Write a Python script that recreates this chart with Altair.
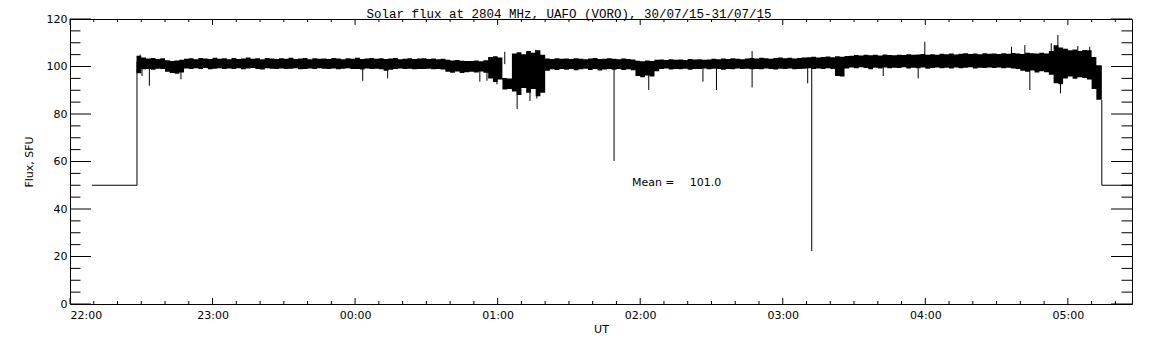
import altair as alt
import pandas as pd

# ---------------- data (minutes after 22:00 UT, flux in SFU) ----------------
TITLE = "Solar flux at 2804 MHz, UAFO (VORO),  30/07/15-31/07/15"
MEAN_LABEL = "Mean ="
MEAN_VALUE = "101.0"

# envelope of the dense record, 2-minute bins starting at minute 28
band_start = 28
band_step = 2
band_hi = [
    104.5, 103.8, 103.4, 103.6, 103.2, 103.5, 102.6, 102.3, 102.5, 102.8,
    103.3, 103.5, 103.1, 103.6, 103.4, 103.2, 103.7, 103.3, 103.5, 103.1,
    103.6, 103.2, 103.4, 103.8, 103.3, 103.5, 103.1, 103.6, 103.4, 103.2,
    103.5, 103.3, 103.7, 103.2, 103.4, 103.6, 103.1, 103.5, 103.3, 103.4,
    103.2, 103.6, 103.4, 103.1, 103.5, 103.3, 103.7, 103.2, 103.4, 103.6,
    103.3, 103.5, 103.2, 103.4, 103.6, 103.1, 103.3, 103.5, 103.2, 103.4,
    103.5, 103.2, 103.4, 103.1, 103.3, 102.8, 102.5, 102.7, 102.4, 102.3,
    102.3, 102.5, 102.2, 102.6, 104.0, 104.3, 103.8, 95.2, 95.0, 105.5,
    106.0, 105.2, 106.5, 105.8, 106.8, 105.0, 103.4, 103.2, 103.5, 103.3,
    103.4, 103.2, 103.5, 103.3, 103.1, 103.4, 103.6, 103.2, 103.3, 103.5,
    103.3, 103.1, 103.4, 103.2, 103.0, 102.4, 102.2, 102.5, 102.3, 102.8,
    102.9, 102.7, 103.1, 102.8, 103.0, 102.7, 103.2, 102.9, 103.1, 102.8,
    103.0, 103.3, 103.1, 103.4, 103.2, 103.5, 103.3, 103.1, 103.4, 103.6,
    103.4, 103.7, 103.5, 103.3, 103.6, 103.8, 103.5, 103.7, 103.4, 103.6,
    103.8, 103.9, 104.1, 103.8, 104.0, 104.2, 103.9, 104.3, 104.1, 104.4,
    104.5, 104.8, 104.6, 105.0, 104.7, 104.9, 104.6, 105.1, 104.8, 104.7,
    105.0, 104.8, 105.2, 104.9, 105.1, 105.3, 104.9, 105.2, 105.0, 105.4,
    105.2, 105.5, 105.1, 105.4, 105.6, 105.3, 105.5, 105.2, 105.6, 105.4,
    105.5, 105.3, 105.6, 105.4, 105.7, 105.5, 105.3, 105.8, 105.6, 105.5,
    105.8, 105.5, 106.5, 109.0, 108.0, 107.5, 106.8, 107.2, 106.5, 107.0,
    106.8, 104.0, 100.5,
]
band_lo = [
    97.2, 98.8, 99.0, 98.6, 99.1, 98.9, 97.8, 97.3, 97.0, 97.5,
    99.2, 98.9, 99.3, 99.0, 99.4, 98.8, 99.1, 99.3, 98.9, 99.2,
    99.0, 99.3, 98.8, 99.2, 99.4, 99.0, 98.7, 99.3, 99.1, 98.9,
    99.2, 98.9, 99.1, 99.3, 98.8, 99.0, 99.2, 98.9, 99.3, 99.1,
    99.0, 99.2, 98.8, 99.1, 99.3, 98.9, 99.0, 98.7, 99.2, 99.0,
    99.1, 98.8, 98.2, 98.6, 99.0, 99.2, 98.9, 99.1, 98.8, 99.0,
    98.9, 99.1, 98.8, 99.0, 98.7, 97.8, 97.4, 97.9, 97.3, 97.6,
    97.8, 97.5, 97.9, 97.4, 95.0, 93.5, 94.5, 90.3, 90.5, 89.5,
    88.0, 91.0, 89.0, 90.5, 87.5, 89.0, 98.2, 98.8, 98.5, 99.0,
    98.6, 99.0, 98.4, 98.8, 99.1, 98.5, 98.9, 98.3, 98.7, 99.0,
    98.6, 98.9, 98.5, 98.8, 98.4, 96.0, 95.5, 96.2, 95.8, 98.0,
    98.9, 99.2, 98.7, 99.0, 98.8, 99.1, 98.6, 99.0, 98.9, 99.2,
    98.8, 99.1, 98.9, 98.6, 99.0, 98.8, 99.2, 98.9, 99.1, 98.8,
    99.0, 98.8, 99.2, 98.9, 98.7, 99.1, 98.9, 99.2, 98.8, 99.0,
    99.1, 99.3, 99.0, 99.2, 98.9, 99.3, 99.0, 96.0, 95.8, 99.2,
    99.6, 99.3, 99.7, 99.4, 98.8, 99.5, 99.2, 99.6, 99.3, 99.5,
    99.4, 99.7, 99.2, 99.5, 99.3, 99.6, 99.1, 99.4, 99.6, 99.3,
    99.5, 99.2, 99.6, 99.3, 99.5, 99.7, 99.2, 99.5, 99.4, 99.6,
    99.4, 99.6, 99.3, 99.5, 99.2, 99.0, 98.2, 97.8, 98.3, 97.5,
    98.0, 97.6, 96.5, 93.0, 92.5, 95.0, 95.8, 94.8, 95.5, 95.2,
    94.5, 90.5, 86.0,
]
band_end = 434.3

# flat 50 SFU segments before and after the record
edge_seg = ["a", "a", "a", "b", "b", "b"]
edge_t = [9.3, 28.2, 28.2, 434.3, 434.3, 447.0]
edge_v = [50.0, 50.0, 102.0, 86.0, 50.0, 50.0]

# isolated spikes
down_t = [30.3, 33.4, 46.7, 123.2, 133.7, 172.5, 175.5, 179.7, 188.2, 193.6, 196.5,
          229.0, 243.6, 266.4, 272.1, 287.1, 310.5, 312.2, 342.3, 357.0, 404.0, 416.9]
down_v = [96.0, 91.9, 94.6, 94.0, 95.0, 93.6, 94.0, 92.5, 82.1, 85.5, 86.5,
          60.2, 90.1, 93.6, 90.1, 91.2, 92.9, 22.3, 96.0, 95.0, 90.1, 88.7]
up_t = [29.5, 183.0, 196.0, 287.1, 359.8, 396.3, 401.9, 413.0, 415.8, 424.2, 429.2]
up_v = [105.0, 106.2, 107.0, 106.5, 110.4, 108.3, 109.0, 109.8, 113.3, 108.6, 108.3]
spike_base = 101.0

# axis ticks
x_major = [0, 60, 120, 180, 240, 300, 360, 420]
x_minor = [m for m in range(10, 447, 10) if m % 60 != 0]
y_major = [0, 20, 40, 60, 80, 100, 120]
y_minor = [v for v in range(5, 120, 5) if v % 20 != 0]

mean_t = [236.5, 260.9]
mean_v = [51.0, 51.0]

# ---------------- chart ----------------
W, H = 1062, 285
FONT = "DejaVu Sans"
xs = alt.Scale(domain=[0, 447], nice=False, zero=False)
ys = alt.Scale(domain=[0, 120], nice=False, zero=False)

label_expr = ("((22 + datum.value/60) % 24 < 10 ? '0' : '') + "
              "((22 + datum.value/60) % 24) + ':00'")
XA = alt.Axis(values=x_major, labelExpr=label_expr, title="UT", ticks=False,
              domain=False, grid=False, labelPadding=5, titlePadding=3)
YA = alt.Axis(values=y_major, format="d", title="Flux, SFU", ticks=False,
              domain=False, grid=False, labelPadding=3, titlePadding=12)


def X(field):
    return alt.X(field, scale=xs, axis=XA)


def Y(field):
    return alt.Y(field, scale=ys, axis=YA)


bin_t = [band_start + band_step * i for i in range(len(band_hi))]
band_df = pd.DataFrame({
    "t": bin_t + [band_end],
    "hi": band_hi + [band_hi[-1]],
    "lo": band_lo + [band_lo[-1]],
})

band = alt.Chart(band_df).mark_area(color="black", interpolate="step-after", opacity=1).encode(
    x=X("t:Q"), y=Y("lo:Q"), y2="hi:Q",
)

edges = alt.Chart(pd.DataFrame({
    "seg": edge_seg, "t": edge_t, "v": edge_v, "i": list(range(len(edge_t)))
})).mark_line(color="black", strokeWidth=1).encode(
    x=X("t:Q"), y=Y("v:Q"), detail="seg:N", order="i:Q",
)

spike_df = pd.DataFrame({
    "t": down_t + up_t,
    "v": down_v + up_v,
    "base": [spike_base] * (len(down_t) + len(up_t)),
})
spikes = alt.Chart(spike_df).mark_rule(color="black", strokeWidth=1).encode(
    x=X("t:Q"), y=Y("v:Q"), y2="base:Q",
)


def xticks(vals, y0, y1):
    return alt.Chart(pd.DataFrame({"t": vals})).mark_rule(color="black", strokeWidth=1).encode(
        x=X("t:Q"), y=alt.value(y0), y2=alt.value(y1))


def yticks(vals, x0, x1):
    return alt.Chart(pd.DataFrame({"v": vals})).mark_rule(color="black", strokeWidth=1).encode(
        y=Y("v:Q"), x=alt.value(x0), x2=alt.value(x1))


ticks = [
    xticks(x_major, H, H - 6), xticks(x_minor, H, H - 3),
    xticks(x_major, 0, 6), xticks(x_minor, 0, 3),
    yticks(y_major, 0, 21), yticks(y_minor, 0, 10.5),
    yticks(y_major, W, W - 21), yticks(y_minor, W, W - 10.5),
]

mean_text = alt.Chart(pd.DataFrame({
    "t": mean_t, "v": mean_v, "s": [MEAN_LABEL, MEAN_VALUE]
})).mark_text(font=FONT, fontSize=11, color="black", align="left", baseline="middle").encode(
    x=X("t:Q"), y=Y("v:Q"), text="s:N",
)

title = alt.Chart(pd.DataFrame({"s": [TITLE]})).mark_text(
    font="Liberation Mono", fontSize=12.5, color="black", align="center", baseline="alphabetic"
).encode(x=alt.value(499), y=alt.value(-1), text="s:N")

chart = alt.layer(band, edges, spikes, *ticks, mean_text, title).properties(
    width=W, height=H,
    autosize=alt.AutoSizeParams(type="none"),
    padding={"left": 62, "top": 11, "right": 10, "bottom": 36},
    background="white",
).configure_view(
    stroke="black", strokeWidth=1
).configure_axis(
    labelFont=FONT, labelFontSize=11, labelColor="black",
    titleFont=FONT, titleFontSize=11, titleFontWeight="normal", titleColor="black",
)

chart.save("out.html", embed_options={"renderer": "svg", "actions": False})
